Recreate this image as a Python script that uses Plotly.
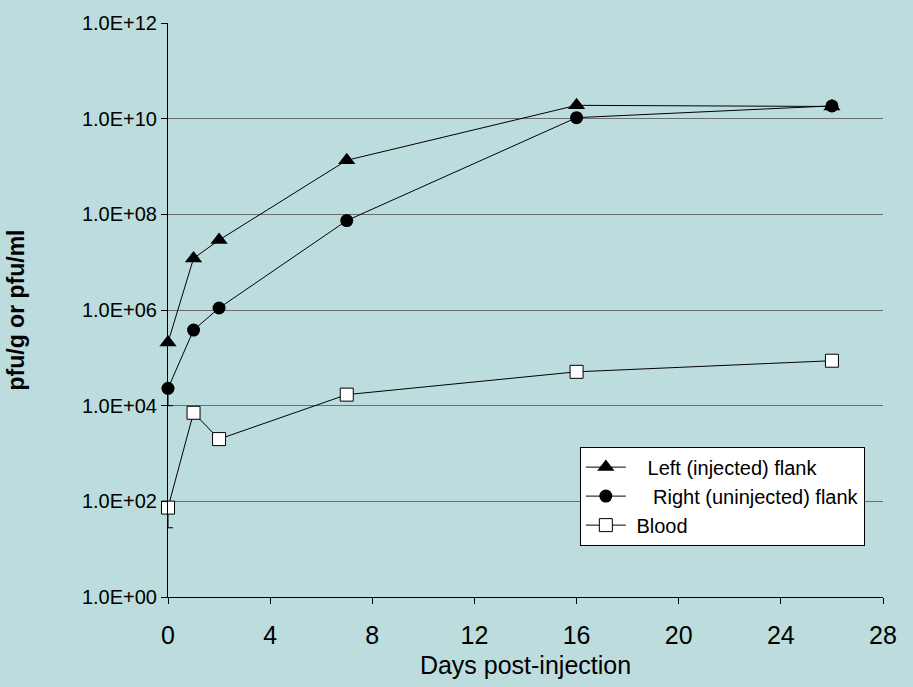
import plotly.graph_objects as go

days = [0, 1, 2, 7, 16, 26]
left_flank = [2.1e5, 1.2e7, 2.9e7, 1.35e9, 1.9e10, 1.8e10]
right_flank = [2.3e4, 3.8e5, 1.1e6, 7.4e7, 1.05e10, 1.85e10]
blood = [74, 7.1e3, 2.0e3, 1.7e4, 5.1e4, 8.7e4]

right_err_minus = [1.3e4, 0, 0, 0, 0, 0]
right_err_plus = [0, 0, 0, 0, 0, 0]
blood_err_minus = [46, 1.3e3, 0, 0, 0, 0]
blood_err_plus = [24, 0, 0, 0, 0, 0]

y_tickvals = [1e0, 1e2, 1e4, 1e6, 1e8, 1e10, 1e12]
y_ticktext = ["1.0E+00", "1.0E+02", "1.0E+04", "1.0E+06", "1.0E+08", "1.0E+10", "1.0E+12"]
x_tickvals = [0, 4, 8, 12, 16, 20, 24, 28]

bg = "#BDDCDE"
fig = go.Figure()

fig.add_trace(go.Scatter(
    x=days, y=left_flank, mode="lines+markers",
    name="   Left (injected) flank",
    line=dict(color="black", width=1),
    marker=dict(symbol="triangle-up", size=15, color="black"),
    cliponaxis=False,
))
fig.add_trace(go.Scatter(
    x=days, y=right_flank, mode="lines+markers",
    name="    Right (uninjected) flank",
    line=dict(color="black", width=1),
    marker=dict(symbol="circle", size=13, color="black"),
    error_y=dict(type="data", symmetric=False, array=right_err_plus,
                 arrayminus=right_err_minus, color="black", thickness=1, width=5),
    cliponaxis=False,
))
fig.add_trace(go.Scatter(
    x=days, y=blood, mode="lines+markers",
    name=" Blood",
    line=dict(color="black", width=1),
    marker=dict(symbol="square", size=13, color="white",
                line=dict(color="black", width=1)),
    error_y=dict(type="data", symmetric=False, array=blood_err_plus,
                 arrayminus=blood_err_minus, color="black", thickness=1, width=5),
    cliponaxis=False,
))

fig.update_layout(
    width=913, height=687,
    margin=dict(l=168, r=30, t=17, b=89),
    paper_bgcolor=bg, plot_bgcolor=bg,
    font=dict(family="Liberation Sans, Arial, sans-serif", color="black"),
    showlegend=True,
    legend=dict(
        x=0.576, y=0.262, xanchor="left", yanchor="top",
        bgcolor="white", bordercolor="black", borderwidth=1,
        font=dict(size=20), tracegroupgap=0, itemwidth=40,
    ),
    xaxis=dict(
        range=[0, 28], tickvals=x_tickvals, ticks="outside", ticklen=6,
        tickcolor="black", showline=True, linecolor="black", linewidth=1,
        showgrid=False, zeroline=False, tickfont=dict(size=25),
        ticklabelstandoff=10,
        title=dict(text="Days post-injection", font=dict(size=25), standoff=8),
    ),
    yaxis=dict(
        type="log", range=[0, 12], tickvals=y_tickvals, ticktext=y_ticktext,
        ticks="outside", ticklen=6, tickcolor="black",
        showline=True, linecolor="black", linewidth=1,
        showgrid=True, gridcolor="#66706F", gridwidth=1,
        zeroline=False, tickfont=dict(size=20),
        title=dict(text="<b>pfu/g or pfu/ml</b>", font=dict(size=23), standoff=50),
    ),
)

fig.write_html("out.html", config={"displayModeBar": False},
               post_script="document.body.style.margin='0';")
